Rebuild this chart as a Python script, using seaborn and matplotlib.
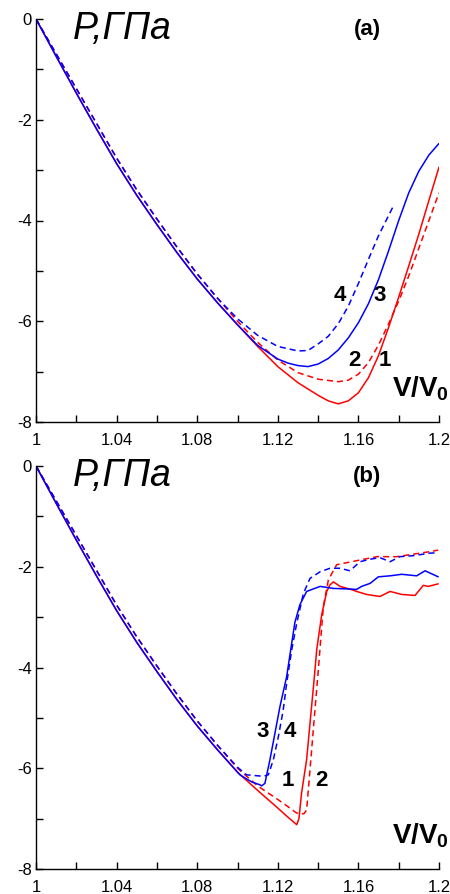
import matplotlib
matplotlib.use("Agg")
import matplotlib.pyplot as plt
from matplotlib.ticker import MultipleLocator
import seaborn as sns

# common initial branch (same for both panels)
x_common = [1.00, 1.01, 1.02, 1.03, 1.04, 1.05, 1.06, 1.07, 1.08, 1.09]
p_solid_common = [0, -0.74, -1.47, -2.18, -2.87, -3.50, -4.08, -4.64, -5.16, -5.63]
p_dash_common = [0, -0.69, -1.38, -2.07, -2.76, -3.39, -3.97, -4.53, -5.06, -5.54]

# panel (a) tails
a1_x = [1.10, 1.11, 1.12, 1.13, 1.14, 1.145, 1.15, 1.155, 1.16, 1.165, 1.17, 1.175, 1.18, 1.185, 1.19, 1.195, 1.20]
a1_p = [-6.07, -6.5, -6.9, -7.22, -7.47, -7.58, -7.64, -7.58, -7.42, -7.12, -6.68, -6.12, -5.52, -4.9, -4.27, -3.6, -2.94]
a2_x = [1.10, 1.11, 1.12, 1.13, 1.14, 1.15, 1.155, 1.16, 1.165, 1.17, 1.175, 1.18, 1.185, 1.19, 1.195, 1.20]
a2_p = [-6.0, -6.42, -6.77, -7.02, -7.15, -7.2, -7.17, -7.05, -6.82, -6.47, -6.05, -5.6, -5.1, -4.55, -4.0, -3.45]
a3_x = [1.10, 1.11, 1.12, 1.125, 1.13, 1.135, 1.14, 1.145, 1.15, 1.155, 1.16, 1.165, 1.17, 1.175, 1.18, 1.185, 1.19, 1.195, 1.20]
a3_p = [-6.07, -6.48, -6.75, -6.83, -6.88, -6.9, -6.85, -6.74, -6.57, -6.33, -6.03, -5.65, -5.17, -4.6, -4.0, -3.45, -3.02, -2.7, -2.47]
a4_x = [1.10, 1.11, 1.12, 1.13, 1.135, 1.14, 1.145, 1.15, 1.155, 1.16, 1.165, 1.17, 1.1775]
a4_p = [-5.95, -6.28, -6.5, -6.59, -6.58, -6.45, -6.3, -6.05, -5.7, -5.25, -4.77, -4.3, -3.7]

# panel (b) tails
b1_x = [1.10, 1.11, 1.12, 1.125, 1.1294, 1.1305, 1.1318, 1.1343, 1.136, 1.138, 1.1393, 1.1418, 1.1443,
        1.1459, 1.1476, 1.1509, 1.1563, 1.1591, 1.1641, 1.1707, 1.1757, 1.1815, 1.1881, 1.1922, 1.1947, 1.1996]
b1_p = [-6.08, -6.44, -6.79, -6.97, -7.12, -7.0, -6.49, -5.83, -5.1, -4.25, -3.65, -2.95, -2.49,
        -2.36, -2.30, -2.39, -2.45, -2.49, -2.55, -2.59, -2.49, -2.55, -2.57, -2.37, -2.39, -2.34]
b2_x = [1.10, 1.11, 1.12, 1.126, 1.129, 1.131, 1.133, 1.1343, 1.136, 1.138, 1.14, 1.1426, 1.1451,
        1.1492, 1.1591, 1.1691, 1.179, 1.1873, 1.1955, 1.1996]
b2_p = [-6.0, -6.35, -6.62, -6.79, -6.88, -6.91, -6.9, -6.83, -6.02, -5.05, -4.1, -2.79, -2.26,
        -1.96, -1.88, -1.80, -1.80, -1.75, -1.70, -1.67]
b3_x = [1.1012, 1.104, 1.107, 1.1112, 1.112, 1.1136, 1.1161, 1.1186, 1.1211, 1.1244, 1.1264, 1.1285,
        1.131, 1.1343, 1.141, 1.1476, 1.1545, 1.1591, 1.1616, 1.1658, 1.1699, 1.1757, 1.1815, 1.1889,
        1.1931, 1.1996]
b3_p = [-6.13, -6.2, -6.27, -6.33, -6.35, -6.3, -5.83, -5.30, -4.77, -4.18, -3.65, -3.1,
        -2.75, -2.49, -2.39, -2.43, -2.44, -2.45, -2.39, -2.33, -2.2, -2.18, -2.15, -2.18,
        -2.08, -2.2]
b4_x = [1.10, 1.1045, 1.1128, 1.1153, 1.1178, 1.1203, 1.1227, 1.1244, 1.1269, 1.1294, 1.1327, 1.136,
        1.141, 1.1459, 1.1509, 1.1558, 1.1608, 1.1658, 1.1707, 1.1757, 1.1806, 1.1873, 1.1955, 1.1996]
b4_p = [-5.98, -6.13, -6.16, -6.13, -5.83, -5.37, -4.84, -4.31, -3.65, -3.12, -2.53, -2.23,
        -2.10, -2.03, -2.03, -2.08, -1.90, -1.85, -1.82, -1.90, -1.80, -1.78, -1.73, -1.72]

x_ticks = [1.0, 1.04, 1.08, 1.12, 1.16, 1.2]
x_labels = ['1', '1.04', '1.08', '1.12', '1.16', '1.2']
y_ticks = [0, -2, -4, -6, -8]
y_labels = ['0', '-2', '-4', '-6', '-8']

sns.set_style("ticks")
plt.rcParams['font.family'] = ['Liberation Sans', 'DejaVu Sans']
plt.rcParams['mathtext.fontset'] = 'custom'
plt.rcParams['mathtext.bf'] = 'Liberation Sans:bold'
plt.rcParams['mathtext.rm'] = 'Liberation Sans'
plt.rcParams['text.color'] = 'black'
plt.rcParams['xtick.color'] = 'black'
plt.rcParams['ytick.color'] = 'black'
plt.rcParams['axes.labelcolor'] = 'black'

RED = '#ff0000'
BLUE = '#0000ff'
DASH = (0, (4, 2.6))
LW = 1.1

fig = plt.figure(figsize=(4.5, 8.94), dpi=100)
ax_a = fig.add_axes([36 / 450, 1 - 422 / 894, 403 / 450, 403 / 894])
ax_b = fig.add_axes([36 / 450, 1 - 869 / 894, 403 / 450, 403 / 894])


def draw(ax, curves, labels, tag, vpos):
    for xs, ps, col, ls in curves:
        sns.lineplot(x=xs, y=ps, color=col, linestyle=ls, lw=LW, ax=ax, sort=False)
    ax.set_xlim(1.0, 1.2)
    ax.set_ylim(-8, 0)
    ax.set_xticks(x_ticks)
    ax.set_xticklabels(x_labels)
    ax.set_yticks(y_ticks)
    ax.set_yticklabels(y_labels)
    ax.xaxis.set_minor_locator(MultipleLocator(0.02))
    ax.yaxis.set_minor_locator(MultipleLocator(1))
    ax.tick_params(which='both', direction='in', length=5, width=1, labelsize=12,
                   colors='black')
    ax.tick_params(axis='x', which='major', pad=8)
    ax.tick_params(axis='y', which='major', pad=3)
    sns.despine(ax=ax)
    for s in ['left', 'bottom']:
        ax.spines[s].set_linewidth(1.0)
        ax.spines[s].set_color('black')
    ax.set_xlabel('')
    ax.set_ylabel('')
    for txt, tx, ty in labels:
        ax.text(tx, ty, txt, fontsize=16, fontweight='bold', color='black', ha='center', va='center')
    ax.text(1.0184, -0.4, 'P,ГПа', fontsize=27, style='italic', color='black',
            ha='left', va='baseline')
    ax.text(1.1645, -0.21, tag, fontsize=16, fontweight='bold', color='black',
            ha='center', va='center')
    ax.text(vpos[0], vpos[1], r'$\mathbf{V/V_0}$', fontsize=20, color='black',
            ha='left', va='baseline', clip_on=False)


curves_a = [
    (x_common + a1_x, p_solid_common + a1_p, RED, '-'),
    (x_common + a2_x, p_dash_common + a2_p, RED, DASH),
    (x_common + a3_x, p_solid_common + a3_p, BLUE, '-'),
    (x_common + a4_x, p_dash_common + a4_p, BLUE, DASH),
]
labels_a = [('4', 1.1509, -5.48), ('3', 1.1707, -5.48), ('2', 1.1578, -6.77), ('1', 1.1732, -6.77)]
draw(ax_a, curves_a, labels_a, '(a)', (1.1767, -7.5))

curves_b = [
    (x_common + b1_x, p_solid_common + b1_p, RED, '-'),
    (x_common + b2_x, p_dash_common + b2_p, RED, DASH),
    (x_common + b3_x, p_solid_common + b3_p, BLUE, '-'),
    (x_common + b4_x, p_dash_common + b4_p, BLUE, DASH),
]
labels_b = [('3', 1.1127, -5.28), ('4', 1.1262, -5.28), ('1', 1.1252, -6.24), ('2', 1.1419, -6.24)]
draw(ax_b, curves_b, labels_b, '(b)', (1.1767, -7.49))

fig.savefig('out.png', dpi=100)
